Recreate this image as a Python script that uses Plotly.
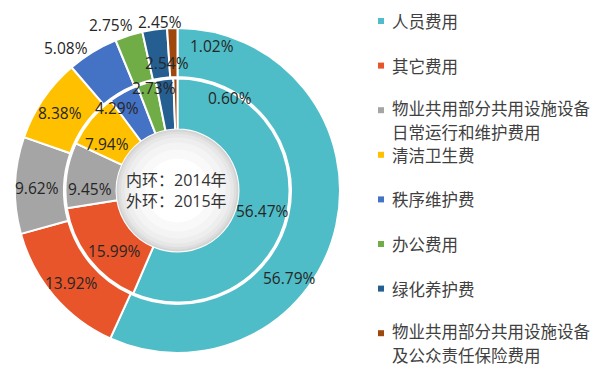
import math
import plotly.graph_objects as go

# ---------------- data ----------------
categories = ["人员费用", "其它费用", "物业共用部分共用设施设备日常运行和维护费用", "清洁卫生费",
              "秩序维护费", "办公费用", "绿化养护费", "物业共用部分共用设施设备及公众责任保险费用"]
legend_lines = [["人员费用"], ["其它费用"], ["物业共用部分共用设施设备", "日常运行和维护费用"], ["清洁卫生费"],
                ["秩序维护费"], ["办公费用"], ["绿化养护费"], ["物业共用部分共用设施设备", "及公众责任保险费用"]]
values_2015 = [56.79, 13.92, 9.62, 8.38, 5.08, 2.75, 2.45, 1.02]   # outer ring
values_2014 = [56.47, 15.99, 9.45, 7.94, 4.29, 2.73, 2.54, 0.60]   # inner ring
center_text = "内环：2014年<br>外环：2015年"

# ---------------- styles / layout ----------------
colors = ["#4FBDC7", "#E8552B", "#A5A5A5", "#FFC000", "#4472C4", "#70AD47", "#255E91", "#9E480E"]
W, H = 604, 374
CX, CY = 177.5, 190.5
R_OUT, R_OUT_HOLE = 162.5, 113.5
R_IN, R_IN_HOLE = 112.0, 61.0

# label placement (radius px, angle offset deg from slice mid-angle)
outer_lab_r = [142, 141, 141, 141, 181, 178, 169, 149]
outer_lab_off = [25.6, -0.7, -1.0, -1.0, -6.3, -4.4, 2.0, 15.4]
inner_lab_r = [87, 87, 88, 85, 102, 105, 128, 106]
inner_lab_off = [1.7, -5.7, -6.6, -5.6, -7.4, 3.5, 2.2, 30.5]

FONT = "Open Sans, Noto Sans CJK SC, sans-serif"
CJK = "Noto Sans CJK SC, sans-serif"


def px2paper(x, y):
    return x / W, 1 - y / H


def domain(r):
    x0, y0 = px2paper(CX - r, CY + r)
    x1, y1 = px2paper(CX + r, CY - r)
    return dict(x=[x0, x1], y=[y0, y1])


fig = go.Figure()
fig.add_trace(go.Pie(
    labels=categories, values=values_2015, sort=False, direction="clockwise", rotation=0,
    hole=R_OUT_HOLE / R_OUT, domain=domain(R_OUT), textinfo="none", showlegend=False,
    marker=dict(colors=colors, line=dict(color="white", width=2)), name="2015"))
fig.add_trace(go.Pie(
    labels=categories, values=values_2014, sort=False, direction="clockwise", rotation=0,
    hole=R_IN_HOLE / R_IN, domain=domain(R_IN), textinfo="none", showlegend=False,
    marker=dict(colors=colors, line=dict(color="white", width=2)), name="2014"))

annotations = []
shapes = []


def add_labels(values, radii, offsets):
    total = sum(values)
    cum = 0.0
    for v, r, off in zip(values, radii, offsets):
        theta = math.radians(360.0 * (cum + v / 2) / total + off)
        cum += v
        x = CX + r * math.sin(theta)
        y = CY - r * math.cos(theta)
        xp, yp = px2paper(x, y)
        annotations.append(dict(x=xp, y=yp, xref="paper", yref="paper", text=f"{v:.2f}%",
                                showarrow=False, xanchor="center", yanchor="middle",
                                font=dict(family=FONT, size=15.5, color="#262626")))


add_labels(values_2015, outer_lab_r, outer_lab_off)
add_labels(values_2014, inner_lab_r, inner_lab_off)

# shaded centre disc (approximate radial gradient)
for r, c in [(61, "#d4d4d4"), (59, "#dedede"), (56.5, "#e7e7e7"), (53, "#eeeeee"),
             (48, "#f4f4f4"), (41, "#f9f9f9"), (32, "#ffffff")]:
    x0, y0 = px2paper(CX - r, CY + r)
    x1, y1 = px2paper(CX + r, CY - r)
    shapes.append(dict(type="circle", xref="paper", yref="paper", x0=x0, y0=y0, x1=x1, y1=y1,
                       fillcolor=c, line=dict(width=0), layer="above"))

cxp, cyp = px2paper(176, 190)
annotations.append(dict(x=cxp, y=cyp, xref="paper", yref="paper", text=center_text,
                        showarrow=False, xanchor="center", yanchor="middle", align="left",
                        font=dict(family=FONT, size=16, color="#333333")))

# legend
LEG_X_MARK, LEG_X_TEXT, LEG_Y0, LEG_DY, LINE_STEP = 381, 390, 21, 44.6, 24
for i, (lines, c) in enumerate(zip(legend_lines, colors)):
    y = LEG_Y0 + i * LEG_DY
    x0, y0 = px2paper(LEG_X_MARK - 3, y + 3)
    x1, y1 = px2paper(LEG_X_MARK + 3, y - 3)
    shapes.append(dict(type="rect", xref="paper", yref="paper", x0=x0, y0=y0, x1=x1, y1=y1,
                       fillcolor=c, line=dict(width=0)))
    start = y - (2 if len(lines) > 1 else 0)
    for k, line in enumerate(lines):
        xp, yp = px2paper(LEG_X_TEXT, start + k * LINE_STEP)
        annotations.append(dict(x=xp, y=yp, xref="paper", yref="paper", text=line, showarrow=False,
                                xanchor="left", yanchor="middle", align="left",
                                font=dict(family=CJK, size=16.5, color="#404040")))

fig.update_layout(width=W, height=H, margin=dict(l=0, r=0, t=0, b=0),
                  paper_bgcolor="white", plot_bgcolor="white",
                  annotations=annotations, shapes=shapes, showlegend=False)

fig.write_html("out.html", config={"displayModeBar": False},
               post_script="document.body.style.margin='0px';")
